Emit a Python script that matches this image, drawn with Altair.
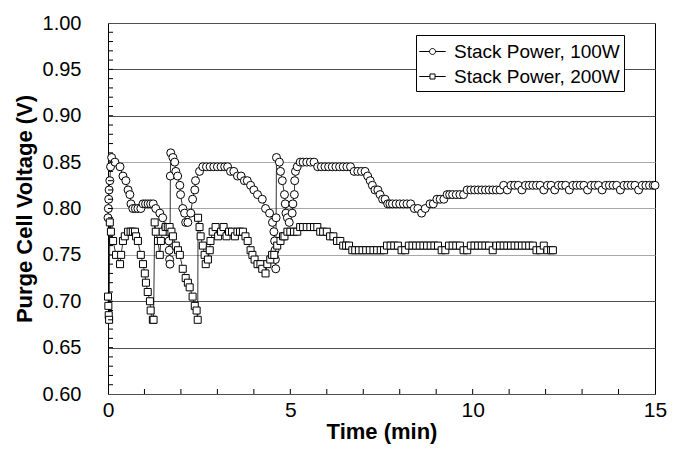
import altair as alt
import pandas as pd

# ---- Stack Power, 100W (circles) : time (min), purge cell voltage (V)
t100 = [0.00, 0.01, 0.02, 0.03, 0.05, 0.07, 0.10,
        0.19, 0.33, 0.41, 0.49, 0.55, 0.60, 0.63, 0.68, 0.75, 0.82, 0.90, 0.96, 1.03,
        1.10, 1.17, 1.24, 1.31, 1.42, 1.50, 1.58, 1.64, 1.67, 1.68, 1.69, 1.70, 1.71, 1.72,
        1.78, 1.83, 1.86, 1.91, 1.97, 1.99, 2.05, 2.10, 2.13, 2.19, 2.27, 2.32, 2.38, 2.40,
        2.51, 2.60, 2.70, 2.80, 2.90, 3.00, 3.10, 3.20, 3.28, 3.36, 3.45, 3.55, 3.65, 3.74,
        3.82, 3.91, 4.00, 4.10, 4.23, 4.32, 4.43, 4.51, 4.55, 4.57, 4.58, 4.59, 4.60, 4.61, 4.62,
        4.70, 4.73, 4.78, 4.84, 4.86, 4.88, 4.92, 4.97, 5.05, 5.07, 5.11, 5.12, 5.14, 5.19,
        5.27, 5.35, 5.45, 5.55, 5.65, 5.75, 5.85, 5.95, 6.05, 6.15, 6.25, 6.35, 6.45, 6.55,
        6.65, 6.75, 6.85, 6.95, 7.05, 7.12, 7.19, 7.25, 7.32, 7.40, 7.46, 7.53, 7.60, 7.67,
        7.73, 7.80, 7.90, 8.00, 8.10, 8.20, 8.30, 8.40, 8.50, 8.60, 8.70, 8.83, 8.92, 9.02,
        9.11, 9.21, 9.30, 9.37, 9.45, 9.55, 9.65, 9.75, 9.85, 9.95, 10.05, 10.15, 10.25,
        10.35, 10.45, 10.55, 10.65, 10.75, 10.85, 10.95, 11.05, 11.15, 11.25, 11.35, 11.45,
        11.55, 11.65, 11.75, 11.85, 11.95, 12.05, 12.15, 12.25, 12.35, 12.45, 12.55, 12.65,
        12.75, 12.85, 12.95, 13.05, 13.15, 13.25, 13.35, 13.45, 13.55, 13.65, 13.75, 13.85,
        13.95, 14.05, 14.15, 14.25, 14.35, 14.45, 14.55, 14.65, 14.75, 14.85, 14.95, 15.00]
v100 = [0.790, 0.800, 0.810, 0.820, 0.830, 0.845, 0.855,
        0.850, 0.845, 0.835, 0.830, 0.820, 0.815, 0.805, 0.800, 0.800, 0.800, 0.800, 0.805, 0.805,
        0.805, 0.805, 0.805, 0.800, 0.795, 0.790, 0.780, 0.775, 0.765, 0.755, 0.745, 0.740, 0.835, 0.860,
        0.855, 0.850, 0.840, 0.835, 0.825, 0.815, 0.800, 0.795, 0.785, 0.785, 0.795, 0.810, 0.820, 0.830,
        0.840, 0.845, 0.845, 0.845, 0.845, 0.845, 0.845, 0.845, 0.845, 0.840, 0.840, 0.835, 0.835, 0.830,
        0.830, 0.825, 0.820, 0.815, 0.810, 0.800, 0.795, 0.785, 0.775, 0.765, 0.755, 0.745, 0.735, 0.790, 0.855,
        0.850, 0.840, 0.830, 0.815, 0.805, 0.795, 0.790, 0.785, 0.795, 0.805, 0.815, 0.830, 0.840, 0.845,
        0.850, 0.850, 0.850, 0.850, 0.850, 0.845, 0.845, 0.845, 0.845, 0.845, 0.845, 0.845, 0.845, 0.845,
        0.845, 0.840, 0.840, 0.840, 0.840, 0.835, 0.830, 0.825, 0.820, 0.820, 0.815, 0.810, 0.810, 0.805,
        0.805, 0.805, 0.805, 0.805, 0.805, 0.805, 0.805, 0.800, 0.800, 0.795, 0.800, 0.805, 0.805, 0.810,
        0.810, 0.810, 0.815, 0.815, 0.815, 0.815, 0.815, 0.815, 0.820, 0.820, 0.820, 0.820, 0.820,
        0.820, 0.820, 0.820, 0.820, 0.820, 0.825, 0.820, 0.825, 0.825, 0.825, 0.820, 0.825,
        0.825, 0.825, 0.825, 0.825, 0.820, 0.825, 0.825, 0.820, 0.825, 0.825, 0.825, 0.820,
        0.825, 0.825, 0.825, 0.825, 0.820, 0.825, 0.825, 0.825, 0.820, 0.825, 0.825, 0.825,
        0.825, 0.820, 0.825, 0.825, 0.825, 0.825, 0.820, 0.825, 0.825, 0.825, 0.825, 0.825]

# ---- Stack Power, 200W (squares)
t200 = [0.00, 0.01, 0.02, 0.03, 0.05, 0.08, 0.14, 0.22, 0.33, 0.36, 0.41, 0.46, 0.55, 0.62,
        0.68, 0.74, 0.77, 0.82, 0.90, 0.96, 1.01, 1.04, 1.09, 1.15, 1.17, 1.23, 1.25, 1.28,
        1.31, 1.37, 1.42, 1.45, 1.50, 1.58, 1.64, 1.69, 1.74, 1.78, 1.86, 1.92, 1.97, 2.05,
        2.13, 2.19, 2.24, 2.32, 2.38, 2.43, 2.46, 2.47, 2.51, 2.54, 2.60, 2.65, 2.68, 2.74,
        2.79, 2.81, 2.87, 2.95, 3.02, 3.10, 3.17, 3.25, 3.32, 3.40, 3.48, 3.55, 3.62, 3.70,
        3.77, 3.83, 3.91, 3.96, 4.02, 4.10, 4.18, 4.23, 4.32, 4.37, 4.45, 4.50, 4.56, 4.64,
        4.73, 4.80, 4.84, 4.92, 5.00, 5.10, 5.19, 5.27, 5.35, 5.45, 5.55, 5.65, 5.74, 5.82,
        5.90, 6.00, 6.09, 6.18, 6.28, 6.37, 6.45, 6.53, 6.61, 6.70, 6.78, 6.88, 6.98, 7.08,
        7.18, 7.28, 7.38, 7.48, 7.57, 7.65, 7.75, 7.85, 7.95, 8.05, 8.15, 8.25, 8.35, 8.45,
        8.55, 8.65, 8.75, 8.85, 8.95, 9.05, 9.15, 9.25, 9.35, 9.45, 9.55, 9.65, 9.75, 9.85,
        9.95, 10.05, 10.15, 10.25, 10.35, 10.45, 10.55, 10.65, 10.75, 10.85, 10.95, 11.05,
        11.15, 11.25, 11.35, 11.45, 11.55, 11.65, 11.75, 11.85, 11.95, 12.05, 12.15, 12.20]
v200 = [0.705, 0.695, 0.685, 0.680, 0.785, 0.775, 0.765, 0.750, 0.740, 0.750, 0.765, 0.770, 0.775, 0.775,
        0.775, 0.775, 0.770, 0.765, 0.750, 0.740, 0.730, 0.720, 0.710, 0.700, 0.690, 0.680, 0.680, 0.785,
        0.775, 0.765, 0.750, 0.765, 0.775, 0.780, 0.780, 0.780, 0.775, 0.770, 0.760, 0.755, 0.750, 0.735,
        0.725, 0.720, 0.715, 0.705, 0.695, 0.690, 0.680, 0.790, 0.780, 0.770, 0.760, 0.750, 0.740, 0.745,
        0.755, 0.765, 0.775, 0.780, 0.770, 0.775, 0.780, 0.770, 0.775, 0.775, 0.770, 0.775, 0.775, 0.775,
        0.770, 0.765, 0.755, 0.750, 0.745, 0.740, 0.740, 0.735, 0.730, 0.740, 0.745, 0.750, 0.750, 0.760,
        0.765, 0.770, 0.770, 0.775, 0.775, 0.775, 0.775, 0.780, 0.780, 0.780, 0.780, 0.780, 0.780, 0.775,
        0.775, 0.775, 0.770, 0.770, 0.765, 0.765, 0.760, 0.760, 0.760, 0.755, 0.755, 0.755, 0.755, 0.755,
        0.755, 0.755, 0.755, 0.755, 0.755, 0.760, 0.760, 0.760, 0.760, 0.755, 0.755, 0.760, 0.760, 0.760,
        0.760, 0.760, 0.760, 0.760, 0.760, 0.760, 0.755, 0.755, 0.760, 0.760, 0.760, 0.760, 0.755, 0.755,
        0.760, 0.760, 0.760, 0.760, 0.760, 0.760, 0.755, 0.760, 0.760, 0.760, 0.760, 0.760,
        0.760, 0.760, 0.760, 0.760, 0.760, 0.760, 0.755, 0.755, 0.760, 0.755, 0.755, 0.755]

series_names = ["Stack Power, 100W", "Stack Power, 200W"]
y_ticks_major = [0.60, 0.65, 0.70, 0.75, 0.80, 0.85, 0.90, 0.95, 1.00]
y_ticks_minor = [0.61, 0.62, 0.63, 0.64, 0.65, 0.66, 0.67, 0.68, 0.69, 0.70, 0.71, 0.72, 0.73,
                 0.74, 0.75, 0.76, 0.77, 0.78, 0.79, 0.80, 0.81, 0.82, 0.83, 0.84, 0.85, 0.86,
                 0.87, 0.88, 0.89, 0.90, 0.91, 0.92, 0.93, 0.94, 0.95, 0.96, 0.97, 0.98, 0.99]
x_ticks_major = [0, 5, 10, 15]
x_ticks_minor = [1, 2, 3, 4, 5, 6, 7, 8, 9, 10, 11, 12, 13, 14]

df100 = pd.DataFrame({"t": t100, "v": v100, "series": series_names[0]})
df200 = pd.DataFrame({"t": t200, "v": v200, "series": series_names[1]})
# legend-only rows: no position, so nothing is drawn; the legend comes from the scale domain
leg_df = pd.DataFrame({"t": [None, None], "v": [None, None], "series": series_names})
yt_df = pd.DataFrame({"v": y_ticks_minor})
xt_df = pd.DataFrame({"t": x_ticks_minor})

W, H = 547, 371
FONT = "Liberation Sans"

xscale = alt.Scale(domain=[0, 15], nice=False, zero=False)
yscale = alt.Scale(domain=[0.6, 1.0], nice=False, zero=False)

x_axis = alt.Axis(values=x_ticks_major, title="Time (min)", grid=False, ticks=False, domain=False,
                  labelFontSize=21, labelFont=FONT, labelColor="black", labelPadding=5,
                  titleFont=FONT, titleFontSize=22, titleFontWeight="bold", titleColor="black",
                  titlePadding=1, labelFlush=False)
y_axis = alt.Axis(values=y_ticks_major, format=".2f", title="Purge Cell Voltage (V)", grid=True,
                  gridColor={"condition": {"test": "datum.value > 0.74 && datum.value < 0.86",
                                           "value": "#a8a8a8"}, "value": "#505050"},
                  gridWidth=1, ticks=False, domain=False,
                  labelFontSize=20, labelFont=FONT, labelColor="black", labelPadding=27,
                  titleFont=FONT, titleFontSize=22, titleFontWeight="bold", titleColor="black",
                  titlePadding=6)

base_x = alt.X("t:Q", scale=xscale, axis=x_axis)
base_y = alt.Y("v:Q", scale=yscale, axis=y_axis)

line100 = alt.Chart(df100).mark_line(color="black", strokeWidth=0.8).encode(x=base_x, y=base_y, order="t:Q")
pts100 = alt.Chart(df100).mark_point(shape="circle", size=64, filled=True, fill="white",
                                     stroke="black", strokeWidth=1, opacity=1).encode(x="t:Q", y="v:Q")
line200 = alt.Chart(df200).mark_line(color="black", strokeWidth=0.8).encode(x="t:Q", y="v:Q", order="t:Q")
pts200 = alt.Chart(df200).mark_point(shape="square", size=49, filled=True, fill="white",
                                     stroke="black", strokeWidth=1, opacity=1).encode(x="t:Q", y="v:Q")

ytick = alt.Chart(yt_df).mark_rule(color="black", strokeWidth=1).encode(
    y="v:Q", x=alt.value(0), x2=alt.value(5))
xtick = alt.Chart(xt_df).mark_rule(color="black", strokeWidth=1).encode(
    x="t:Q", y=alt.value(H), y2=alt.value(H - 5))

circle_path = ("M -1.1 0 L -0.25 0 M 0.25 0 L 1.1 0 M -0.25 0 A 0.25 0.25 0 1 1 0.25 0 "
               "A 0.25 0.25 0 1 1 -0.25 0 Z")
square_path = ("M -1.1 0 L -0.21 0 M 0.21 0 L 1.1 0 M -0.21 -0.21 L 0.21 -0.21 L 0.21 0.21 "
               "L -0.21 0.21 Z")

legend_layer = alt.Chart(leg_df).mark_point(filled=False, stroke="black", color="black",
                                            strokeWidth=1).encode(
    x="t:Q", y="v:Q",
    shape=alt.Shape("series:N",
                    scale=alt.Scale(domain=series_names, range=[circle_path, square_path]),
                    legend=alt.Legend(title=None, orient="none", legendX=308, legendY=12,
                                      fillColor="white", strokeColor="black", padding=4,
                                      symbolSize=576, symbolStrokeWidth=1,
                                      symbolStrokeColor="black",
                                      symbolOpacity=1, labelFont=FONT, labelFontSize=19,
                                      labelColor="black", labelOffset=9, rowPadding=2,
                                      labelLimit=400)))

chart = alt.layer(line100, pts100, line200, pts200, ytick, xtick, legend_layer).properties(
    width=W, height=H,
    autosize=alt.AutoSizeParams(type="none"),
    padding={"left": 100, "top": 15, "right": 12, "bottom": 54},
    background="white",
).configure_view(stroke="black", strokeWidth=1)

chart.save("out.html", embed_options={"renderer": "svg", "actions": False})
